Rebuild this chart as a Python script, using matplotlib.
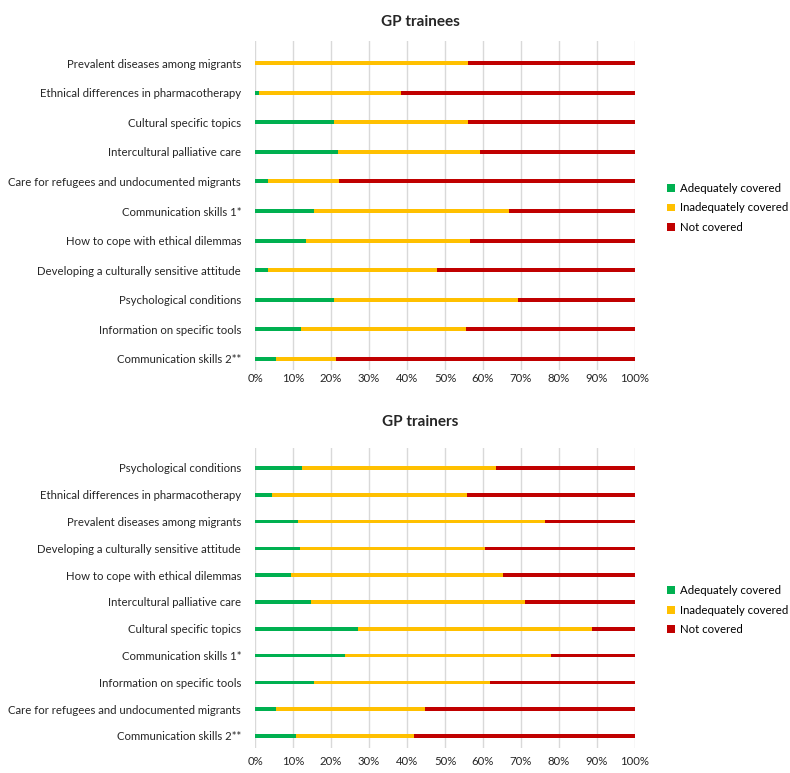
import numpy as np
import matplotlib
matplotlib.use('Agg')
from matplotlib import pyplot as plt

plt.rcParams['font.family'] = ['Lato', 'DejaVu Sans']

series = ['Adequately covered', 'Inadequately covered', 'Not covered']
colors = ['#00B050', '#FFC000', '#C00000']

# GP trainees (top to bottom)
trainee_topics = ['Prevalent diseases among migrants',
                  'Ethnical differences in pharmacotherapy',
                  'Cultural specific topics',
                  'Intercultural palliative care',
                  'Care for refugees and undocumented migrants',
                  'Communication skills 1*',
                  'How to cope with ethical dilemmas',
                  'Developing a culturally sensitive attitude',
                  'Psychological conditions',
                  'Information on specific tools',
                  'Communication skills 2**']
trainee_adequate = [0.0, 1.1, 20.9, 21.9, 3.3, 15.4, 13.4, 3.3, 20.9, 12.2, 5.4]
trainee_inadequate = [56.0, 37.4, 35.1, 37.3, 18.7, 51.5, 43.3, 44.6, 48.4, 43.4, 15.8]
trainee_not = [44.0, 61.5, 44.0, 40.8, 78.0, 33.1, 43.3, 52.1, 30.7, 44.4, 78.8]

# GP trainers (top to bottom)
trainer_topics = ['Psychological conditions',
                  'Ethnical differences in pharmacotherapy',
                  'Prevalent diseases among migrants',
                  'Developing a culturally sensitive attitude',
                  'How to cope with ethical dilemmas',
                  'Intercultural palliative care',
                  'Cultural specific topics',
                  'Communication skills 1*',
                  'Information on specific tools',
                  'Care for refugees and undocumented migrants',
                  'Communication skills 2**']
trainer_adequate = [12.3, 4.4, 11.2, 11.9, 9.5, 14.8, 27.1, 23.8, 15.6, 5.5, 10.9]
trainer_inadequate = [51.0, 51.5, 65.2, 48.6, 55.7, 56.2, 61.6, 54.1, 46.2, 39.2, 30.9]
trainer_not = [36.7, 44.1, 23.6, 39.5, 34.8, 29.0, 11.3, 22.1, 38.2, 55.3, 58.2]

W, H = 790, 773
fig = plt.figure(figsize=(W / 100, H / 100), dpi=100)


def panel(top, bottom, first_bar, spacing, title, title_y, topics, values, legend_y, xpad):
    ax = fig.add_axes([255 / W, 1 - bottom / H, 380 / W, (bottom - top) / H])
    y = np.arange(len(topics))
    left = np.zeros(len(topics))
    for vals, name, c in zip(values, series, colors):
        vals = np.array(vals)
        ax.barh(y, vals, left=left, height=0.13, color=c, label=name, linewidth=0)
        left += vals
    ax.set_xlim(0, 100)
    ax.set_ylim(10 + (bottom - (first_bar + 10 * spacing)) / spacing,
                -(first_bar - top) / spacing)
    ax.set_yticks(y)
    ax.set_yticklabels(topics, fontsize=8.2, color='#262626')
    ax.set_xticks(np.arange(0, 101, 10))
    ax.set_xticklabels(['%d%%' % v for v in range(0, 101, 10)], fontsize=8.2, color='#262626')
    ax.tick_params(length=0, axis='y', pad=10)
    ax.tick_params(length=0, axis='x', pad=xpad)
    ax.xaxis.grid(True, color='#D9D9D9', linewidth=1)
    ax.set_axisbelow(True)
    for s in ax.spines.values():
        s.set_visible(False)
    fig.text(420 / W, 1 - title_y / H, title, fontsize=11, fontweight='bold',
             ha='center', va='center', color='#262626')
    ax.legend(loc='center left', bbox_to_anchor=(657 / W, 1 - legend_y / H),
              bbox_transform=fig.transFigure, frameon=False, fontsize=8.2,
              handlelength=0.7, handleheight=0.7, handletextpad=0.4, labelspacing=0.75)
    return ax


panel(41, 370, 63, 29.6, 'GP trainees', 22, trainee_topics,
      [trainee_adequate, trainee_inadequate, trainee_not], 208, 2)
panel(448, 748, 468, 26.8, 'GP trainers', 422, trainer_topics,
      [trainer_adequate, trainer_inadequate, trainer_not], 610, 6)

fig.savefig('out.png', dpi=100)
